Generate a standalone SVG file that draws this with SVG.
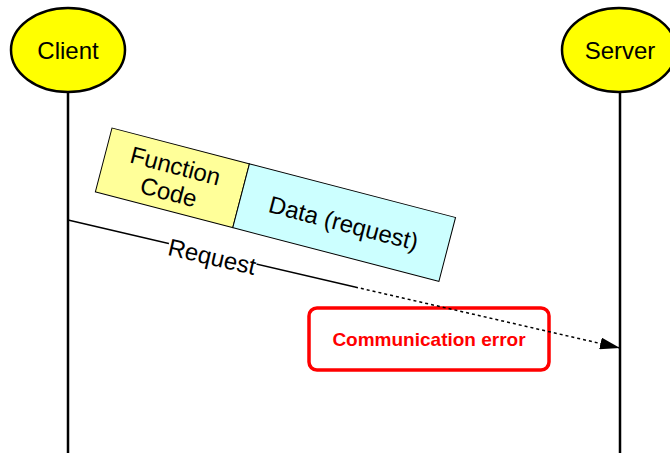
<svg xmlns="http://www.w3.org/2000/svg" width="670" height="453" viewBox="0 0 670 453">
  <style>
    .actor { fill: #ffff00; stroke: #000; stroke-width: 2.5; }
    .life { stroke: #000; stroke-width: 2.5; fill: none; }
    .lbl { font-family: "Liberation Sans", Arial, sans-serif; font-size: 24px; fill: #000; }
    .msg { stroke: #000; stroke-width: 1.5; fill: none; }
    .err { font-family: "Liberation Sans", Arial, sans-serif; font-size: 19px; font-weight: bold; fill: #ff0000; }
  </style>
  <defs>
    <marker id="arrow" viewBox="0 0 20 12" refX="20" refY="6" markerWidth="20" markerHeight="12" markerUnits="userSpaceOnUse" orient="auto">
      <path d="M0,0 L20,6 L0,12 Z" fill="#000"/>
    </marker>
  </defs>
  <rect width="670" height="453" fill="#fff"/>

  <g id="client">
    <line class="life" x1="68" y1="92" x2="68" y2="453"/>
    <ellipse class="actor" cx="68" cy="50" rx="57" ry="42"/>
    <text class="lbl" x="68" y="59" text-anchor="middle">Client</text>
  </g>

  <g id="server">
    <line class="life" x1="620" y1="92" x2="620" y2="453"/>
    <ellipse class="actor" cx="619" cy="50" rx="57" ry="42"/>
    <text class="lbl" x="620" y="59" text-anchor="middle">Server</text>
  </g>

  <g id="error">
    <rect x="309" y="308" width="240" height="62" rx="8" fill="#fff" stroke="#ff0000" stroke-width="3.5"/>
    <text class="err" x="429" y="346" text-anchor="middle">Communication error</text>
  </g>

  <g id="connectors">
    <line class="msg" x1="68" y1="220" x2="355" y2="287"/>
    <line class="msg" x1="355" y1="287" x2="620" y2="348" stroke-dasharray="3,3" marker-end="url(#arrow)"/>
    <g transform="translate(212,257) rotate(13.06)">
      <rect x="-45" y="-12" width="90" height="22" fill="#fff"/>
      <text class="lbl" x="0" y="8" text-anchor="middle" font-size="23">Request</text>
    </g>
  </g>

  <g id="packet" transform="translate(112,128) rotate(14.6)">
    <rect x="0" y="0" width="142" height="66" fill="#ffff99" stroke="#000" stroke-width="1"/>
    <rect x="142" y="0" width="213" height="66" fill="#ccffff" stroke="#000" stroke-width="1"/>
    <text class="lbl" x="71" y="29" text-anchor="middle">Function</text>
    <text class="lbl" x="71" y="56" text-anchor="middle">Code</text>
    <text class="lbl" x="248" y="42" text-anchor="middle">Data (request)</text>
  </g>
</svg>
